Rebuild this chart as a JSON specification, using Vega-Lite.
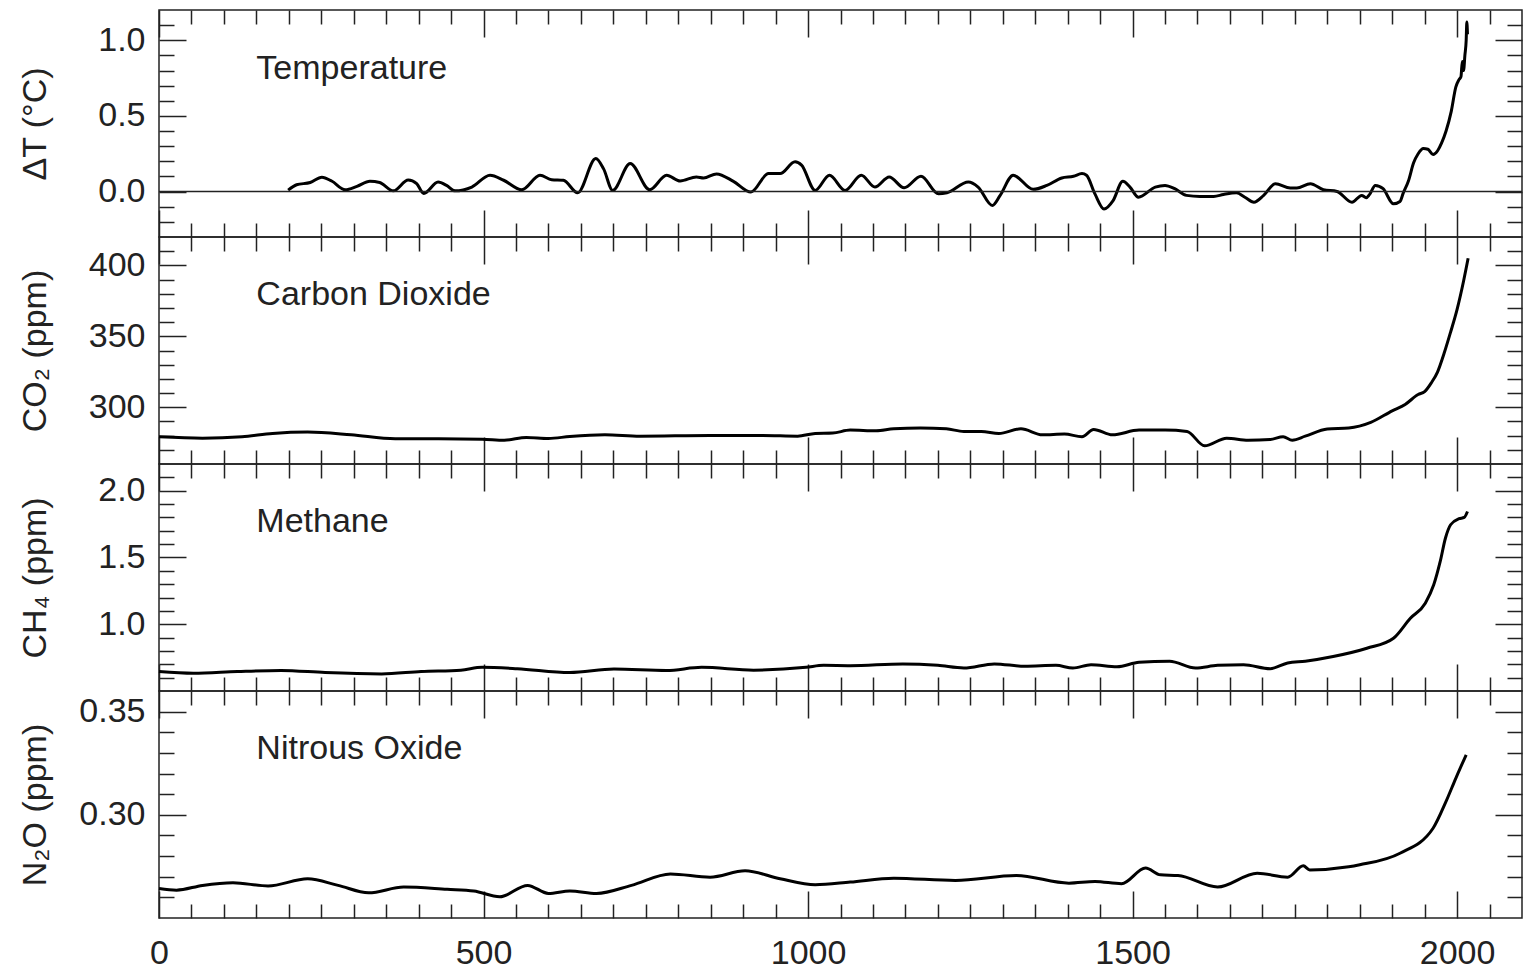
{
  "$schema": "https://vega.github.io/schema/vega-lite/v6.json",
  "background": "white",
  "padding": {"left": 17, "top": 8, "right": 0, "bottom": 0},
  "spacing": 0,
  "bounds": "flush",
  "datasets": {
    "temp": [
      {"year": 199, "v": 0.01}, {"year": 212, "v": 0.045}, {"year": 233, "v": 0.06}, {"year": 251, "v": 0.095}, {"year": 266, "v": 0.07},
      {"year": 287, "v": 0.012}, {"year": 305, "v": 0.035}, {"year": 325, "v": 0.068}, {"year": 340, "v": 0.06}, {"year": 361, "v": 0.005},
      {"year": 384, "v": 0.077}, {"year": 397, "v": 0.052}, {"year": 408, "v": -0.012}, {"year": 430, "v": 0.063}, {"year": 443, "v": 0.041},
      {"year": 456, "v": 0.005}, {"year": 482, "v": 0.03}, {"year": 510, "v": 0.108}, {"year": 531, "v": 0.075}, {"year": 559, "v": 0.012},
      {"year": 587, "v": 0.108}, {"year": 605, "v": 0.079}, {"year": 623, "v": 0.075}, {"year": 645, "v": -0.008}, {"year": 673, "v": 0.219},
      {"year": 685, "v": 0.15}, {"year": 699, "v": 0.008}, {"year": 726, "v": 0.185}, {"year": 756, "v": 0.012}, {"year": 782, "v": 0.108},
      {"year": 803, "v": 0.07}, {"year": 828, "v": 0.097}, {"year": 839, "v": 0.09}, {"year": 859, "v": 0.117}, {"year": 885, "v": 0.068},
      {"year": 912, "v": -0.003}, {"year": 939, "v": 0.119}, {"year": 957, "v": 0.119}, {"year": 980, "v": 0.197}, {"year": 990, "v": 0.175},
      {"year": 1011, "v": 0.008}, {"year": 1033, "v": 0.108}, {"year": 1057, "v": 0.008}, {"year": 1082, "v": 0.108}, {"year": 1103, "v": 0.03},
      {"year": 1125, "v": 0.097}, {"year": 1148, "v": 0.025}, {"year": 1174, "v": 0.101}, {"year": 1201, "v": -0.015}, {"year": 1214, "v": -0.008},
      {"year": 1247, "v": 0.063}, {"year": 1262, "v": 0.03}, {"year": 1284, "v": -0.092}, {"year": 1296, "v": -0.025}, {"year": 1316, "v": 0.108},
      {"year": 1347, "v": 0.015}, {"year": 1368, "v": 0.041}, {"year": 1391, "v": 0.09}, {"year": 1409, "v": 0.101}, {"year": 1422, "v": 0.119},
      {"year": 1429, "v": 0.108}, {"year": 1442, "v": -0.015}, {"year": 1456, "v": -0.115}, {"year": 1470, "v": -0.059}, {"year": 1485, "v": 0.068},
      {"year": 1496, "v": 0.03}, {"year": 1509, "v": -0.037}, {"year": 1535, "v": 0.03}, {"year": 1550, "v": 0.041}, {"year": 1565, "v": 0.019},
      {"year": 1583, "v": -0.025}, {"year": 1604, "v": -0.032}, {"year": 1625, "v": -0.032}, {"year": 1640, "v": -0.019}, {"year": 1660, "v": -0.008},
      {"year": 1673, "v": -0.037}, {"year": 1687, "v": -0.07}, {"year": 1702, "v": -0.025}, {"year": 1720, "v": 0.052}, {"year": 1743, "v": 0.023},
      {"year": 1753, "v": 0.023}, {"year": 1774, "v": 0.052}, {"year": 1794, "v": 0.012}, {"year": 1815, "v": 0.001}, {"year": 1838, "v": -0.07},
      {"year": 1853, "v": -0.025}, {"year": 1860, "v": -0.04}, {"year": 1865, "v": -0.02}, {"year": 1874, "v": 0.041}, {"year": 1886, "v": 0.019},
      {"year": 1902, "v": -0.081}, {"year": 1912, "v": -0.065}, {"year": 1917, "v": -0.01}, {"year": 1925, "v": 0.07}, {"year": 1933, "v": 0.19},
      {"year": 1940, "v": 0.25}, {"year": 1948, "v": 0.285}, {"year": 1955, "v": 0.28}, {"year": 1963, "v": 0.245}, {"year": 1970, "v": 0.27},
      {"year": 1976, "v": 0.32}, {"year": 1983, "v": 0.4}, {"year": 1991, "v": 0.53}, {"year": 1998, "v": 0.69}, {"year": 2003, "v": 0.74},
      {"year": 2006, "v": 0.76}, {"year": 2008, "v": 0.86}, {"year": 2010, "v": 0.8}, {"year": 2012, "v": 0.9}, {"year": 2014, "v": 1.0},
      {"year": 2015, "v": 1.12}, {"year": 2016, "v": 1.04}
    ],
    "co2": [
      {"year": 0, "v": 279.2}, {"year": 67, "v": 278.2}, {"year": 128, "v": 279.2}, {"year": 175, "v": 281.5}, {"year": 229, "v": 282.5},
      {"year": 296, "v": 280.6}, {"year": 364, "v": 277.8}, {"year": 431, "v": 277.8}, {"year": 498, "v": 277.5}, {"year": 532, "v": 276.8},
      {"year": 566, "v": 278.7}, {"year": 600, "v": 278}, {"year": 633, "v": 279.4}, {"year": 687, "v": 280.6}, {"year": 741, "v": 279.6},
      {"year": 849, "v": 280.1}, {"year": 930, "v": 280.1}, {"year": 984, "v": 279.6}, {"year": 1011, "v": 281.5}, {"year": 1038, "v": 281.8},
      {"year": 1065, "v": 283.9}, {"year": 1105, "v": 283.4}, {"year": 1132, "v": 284.8}, {"year": 1173, "v": 285.3}, {"year": 1213, "v": 284.8},
      {"year": 1240, "v": 282.9}, {"year": 1267, "v": 282.9}, {"year": 1294, "v": 281.5}, {"year": 1328, "v": 284.8}, {"year": 1361, "v": 280.6},
      {"year": 1395, "v": 281.1}, {"year": 1422, "v": 279.2}, {"year": 1440, "v": 284.4}, {"year": 1469, "v": 280.6}, {"year": 1510, "v": 283.9},
      {"year": 1550, "v": 283.9}, {"year": 1584, "v": 282.9}, {"year": 1611, "v": 272.8}, {"year": 1645, "v": 278.2}, {"year": 1678, "v": 276.8},
      {"year": 1712, "v": 277.3}, {"year": 1732, "v": 279.2}, {"year": 1746, "v": 276.8}, {"year": 1766, "v": 279.6}, {"year": 1800, "v": 284.6},
      {"year": 1833, "v": 285.3}, {"year": 1867, "v": 289.3}, {"year": 1900, "v": 297.5}, {"year": 1920, "v": 302}, {"year": 1940, "v": 309},
      {"year": 1950, "v": 311}, {"year": 1960, "v": 317}, {"year": 1970, "v": 325}, {"year": 1980, "v": 338}, {"year": 1990, "v": 353},
      {"year": 2000, "v": 369}, {"year": 2010, "v": 389}, {"year": 2017, "v": 405}
    ],
    "ch4": [
      {"year": 0, "v": 0.646}, {"year": 53, "v": 0.633}, {"year": 121, "v": 0.646}, {"year": 188, "v": 0.654}, {"year": 256, "v": 0.638},
      {"year": 343, "v": 0.628}, {"year": 404, "v": 0.646}, {"year": 465, "v": 0.656}, {"year": 498, "v": 0.677}, {"year": 552, "v": 0.667},
      {"year": 633, "v": 0.638}, {"year": 701, "v": 0.664}, {"year": 782, "v": 0.654}, {"year": 836, "v": 0.677}, {"year": 916, "v": 0.656},
      {"year": 997, "v": 0.677}, {"year": 1024, "v": 0.692}, {"year": 1065, "v": 0.69}, {"year": 1146, "v": 0.703}, {"year": 1200, "v": 0.692},
      {"year": 1240, "v": 0.672}, {"year": 1287, "v": 0.703}, {"year": 1334, "v": 0.685}, {"year": 1382, "v": 0.692}, {"year": 1408, "v": 0.672},
      {"year": 1436, "v": 0.697}, {"year": 1476, "v": 0.682}, {"year": 1510, "v": 0.715}, {"year": 1557, "v": 0.723}, {"year": 1597, "v": 0.672},
      {"year": 1631, "v": 0.692}, {"year": 1671, "v": 0.697}, {"year": 1712, "v": 0.667}, {"year": 1739, "v": 0.71}, {"year": 1766, "v": 0.723},
      {"year": 1809, "v": 0.758}, {"year": 1861, "v": 0.82}, {"year": 1902, "v": 0.895}, {"year": 1928, "v": 1.045}, {"year": 1951, "v": 1.157},
      {"year": 1964, "v": 1.295}, {"year": 1974, "v": 1.47}, {"year": 1982, "v": 1.644}, {"year": 1990, "v": 1.745}, {"year": 2003, "v": 1.79},
      {"year": 2011, "v": 1.8}, {"year": 2016, "v": 1.844}
    ],
    "n2o": [
      {"year": 0, "v": 0.2643}, {"year": 27, "v": 0.2635}, {"year": 67, "v": 0.2658}, {"year": 114, "v": 0.2671}, {"year": 168, "v": 0.2655},
      {"year": 229, "v": 0.269}, {"year": 276, "v": 0.2658}, {"year": 323, "v": 0.2622}, {"year": 377, "v": 0.265}, {"year": 444, "v": 0.2639},
      {"year": 485, "v": 0.2631}, {"year": 525, "v": 0.2603}, {"year": 568, "v": 0.2658}, {"year": 600, "v": 0.2619}, {"year": 633, "v": 0.2631},
      {"year": 674, "v": 0.2619}, {"year": 728, "v": 0.2658}, {"year": 788, "v": 0.2713}, {"year": 849, "v": 0.2698}, {"year": 903, "v": 0.2729},
      {"year": 957, "v": 0.269}, {"year": 1011, "v": 0.2661}, {"year": 1065, "v": 0.2674}, {"year": 1132, "v": 0.2693}, {"year": 1227, "v": 0.2682},
      {"year": 1321, "v": 0.2706}, {"year": 1402, "v": 0.2669}, {"year": 1442, "v": 0.2677}, {"year": 1483, "v": 0.2666}, {"year": 1520, "v": 0.2742},
      {"year": 1543, "v": 0.2709}, {"year": 1570, "v": 0.2706}, {"year": 1631, "v": 0.265}, {"year": 1692, "v": 0.2717}, {"year": 1739, "v": 0.2698},
      {"year": 1763, "v": 0.2753}, {"year": 1773, "v": 0.2733}, {"year": 1833, "v": 0.2748}, {"year": 1850, "v": 0.2758}, {"year": 1912, "v": 0.2814},
      {"year": 1963, "v": 0.2935}, {"year": 1983, "v": 0.3065}, {"year": 1998, "v": 0.3177}, {"year": 2014, "v": 0.3291}
    ]
  },
  "config": {
    "view": {"stroke": "#222", "strokeWidth": 1.5},
    "concat": {"spacing": 0},
    "axis": {
      "domain": false, "grid": false, "tickColor": "#222", "tickWidth": 1.5,
      "labelFont": "Liberation Sans", "labelFontSize": 34, "labelColor": "#222",
      "titleFont": "Liberation Sans", "titleFontSize": 34, "titleColor": "#222", "titleFontWeight": "normal",
      "labelOverlap": false, "labelFlush": false
    },
    "line": {"color": "#000", "strokeWidth": 3, "interpolate": "monotone"},
    "text": {"font": "Liberation Sans", "fontSize": 34, "color": "#222"}
  },
  "vconcat": [
    {
      "width": 1363, "height": 227,
      "resolve": {"axis": {"x": "independent", "y": "independent"}},
      "layer": [
        {
          "data": {"name": "temp"},
          "mark": {"type": "line"},
          "encoding": {
            "x": {"field": "year", "type": "quantitative", "scale": {"domain": [0, 2100], "nice": false, "zero": false},
              "axis": {"orient": "bottom", "labels": false, "title": null, "values": [0,50,100,150,200,250,300,350,400,450,500,550,600,650,700,750,800,850,900,950,1000,1050,1100,1150,1200,1250,1300,1350,1400,1450,1500,1550,1600,1650,1700,1750,1800,1850,1900,1950,2000,2050],
                "tickSize": {"condition": {"test": "datum.value % 500 === 0", "value": -27}, "value": -14}}},
            "y": {"field": "v", "type": "quantitative", "scale": {"domain": [-0.3, 1.2], "nice": false, "zero": false},
              "axis": {"orient": "left", "values": [-0.2,-0.1,0,0.1,0.2,0.3,0.4,0.5,0.6,0.7,0.8,0.9,1.0,1.1],
                "labelExpr": "abs(datum.value*2 - round(datum.value*2)) < 1e-6 ? format(datum.value, '.1f') : ''",
                "labelFontSize": {"condition": {"test": "abs(datum.value*2 - round(datum.value*2)) < 1e-6", "value": 34}, "value": 0},
                "labelPadding": 41, "title": "ΔT (°C)", "titleX": -124, "titleY": 113.5, "titleBaseline": "middle", "titleAngle": -90,
                "tickSize": {"condition": {"test": "abs(datum.value*2 - round(datum.value*2)) < 1e-6", "value": -27}, "value": -15}}}
          }
        },
        {
          "data": {"values": [{"z": 0}]},
          "mark": {"type": "rule", "color": "#222", "strokeWidth": 1.5},
          "encoding": {"y": {"field": "z", "type": "quantitative", "axis": null}}
        },
        {
          "data": {"values": [{"x": 150, "y": 0.813, "t": "Temperature"}]},
          "mark": {"type": "text", "align": "left", "baseline": "middle"},
          "encoding": {
            "x": {"field": "x", "type": "quantitative", "scale": {"domain": [0, 2100], "nice": false, "zero": false},
              "axis": {"orient": "top", "labels": false, "title": null, "values": [0,50,100,150,200,250,300,350,400,450,500,550,600,650,700,750,800,850,900,950,1000,1050,1100,1150,1200,1250,1300,1350,1400,1450,1500,1550,1600,1650,1700,1750,1800,1850,1900,1950,2000,2050],
                "tickSize": {"condition": {"test": "datum.value % 500 === 0", "value": -27}, "value": -14}}},
            "y": {"field": "y", "type": "quantitative",
              "axis": {"orient": "right", "labels": false, "title": null, "values": [-0.2,-0.1,0,0.1,0.2,0.3,0.4,0.5,0.6,0.7,0.8,0.9,1.0,1.1],
                "tickSize": {"condition": {"test": "abs(datum.value*2 - round(datum.value*2)) < 1e-6", "value": -27}, "value": -15}}},
            "text": {"field": "t"}
          }
        }
      ]
    },
    {
      "width": 1363, "height": 227,
      "resolve": {"axis": {"x": "independent", "y": "independent"}},
      "layer": [
        {
          "data": {"name": "co2"},
          "mark": {"type": "line"},
          "encoding": {
            "x": {"field": "year", "type": "quantitative", "scale": {"domain": [0, 2100], "nice": false, "zero": false},
              "axis": {"orient": "bottom", "labels": false, "title": null, "values": [0,50,100,150,200,250,300,350,400,450,500,550,600,650,700,750,800,850,900,950,1000,1050,1100,1150,1200,1250,1300,1350,1400,1450,1500,1550,1600,1650,1700,1750,1800,1850,1900,1950,2000,2050],
                "tickSize": {"condition": {"test": "datum.value % 500 === 0", "value": -27}, "value": -14}}},
            "y": {"field": "v", "type": "quantitative", "scale": {"domain": [260, 420], "nice": false, "zero": false},
              "axis": {"orient": "left", "values": [270,280,290,300,310,320,330,340,350,360,370,380,390,400,410],
                "labelExpr": "datum.value % 50 === 0 ? format(datum.value, 'd') : ''",
                "labelFontSize": {"condition": {"test": "datum.value % 50 === 0", "value": 34}, "value": 0},
                "labelPadding": 41, "title": "CO₂ (ppm)", "titleX": -124, "titleY": 113.5, "titleBaseline": "middle", "titleAngle": -90,
                "tickSize": {"condition": {"test": "datum.value % 50 === 0", "value": -27}, "value": -15}}}
          }
        },
        {
          "data": {"values": [{"x": 150, "y": 378.8, "t": "Carbon Dioxide"}]},
          "mark": {"type": "text", "align": "left", "baseline": "middle"},
          "encoding": {
            "x": {"field": "x", "type": "quantitative", "scale": {"domain": [0, 2100], "nice": false, "zero": false},
              "axis": {"orient": "top", "labels": false, "title": null, "values": [0,50,100,150,200,250,300,350,400,450,500,550,600,650,700,750,800,850,900,950,1000,1050,1100,1150,1200,1250,1300,1350,1400,1450,1500,1550,1600,1650,1700,1750,1800,1850,1900,1950,2000,2050],
                "tickSize": {"condition": {"test": "datum.value % 500 === 0", "value": -27}, "value": -14}}},
            "y": {"field": "y", "type": "quantitative",
              "axis": {"orient": "right", "labels": false, "title": null, "values": [270,280,290,300,310,320,330,340,350,360,370,380,390,400,410],
                "tickSize": {"condition": {"test": "datum.value % 50 === 0", "value": -27}, "value": -15}}},
            "text": {"field": "t"}
          }
        }
      ]
    },
    {
      "width": 1363, "height": 227,
      "resolve": {"axis": {"x": "independent", "y": "independent"}},
      "layer": [
        {
          "data": {"name": "ch4"},
          "mark": {"type": "line"},
          "encoding": {
            "x": {"field": "year", "type": "quantitative", "scale": {"domain": [0, 2100], "nice": false, "zero": false},
              "axis": {"orient": "bottom", "labels": false, "title": null, "values": [0,50,100,150,200,250,300,350,400,450,500,550,600,650,700,750,800,850,900,950,1000,1050,1100,1150,1200,1250,1300,1350,1400,1450,1500,1550,1600,1650,1700,1750,1800,1850,1900,1950,2000,2050],
                "tickSize": {"condition": {"test": "datum.value % 500 === 0", "value": -27}, "value": -14}}},
            "y": {"field": "v", "type": "quantitative", "scale": {"domain": [0.5, 2.2], "nice": false, "zero": false},
              "axis": {"orient": "left", "values": [0.6,0.7,0.8,0.9,1.0,1.1,1.2,1.3,1.4,1.5,1.6,1.7,1.8,1.9,2.0,2.1],
                "labelExpr": "abs(datum.value*2 - round(datum.value*2)) < 1e-6 ? format(datum.value, '.1f') : ''",
                "labelFontSize": {"condition": {"test": "abs(datum.value*2 - round(datum.value*2)) < 1e-6", "value": 34}, "value": 0},
                "labelPadding": 41, "title": "CH₄ (ppm)", "titleX": -124, "titleY": 113.5, "titleBaseline": "middle", "titleAngle": -90,
                "tickSize": {"condition": {"test": "abs(datum.value*2 - round(datum.value*2)) < 1e-6", "value": -27}, "value": -15}}}
          }
        },
        {
          "data": {"values": [{"x": 150, "y": 1.762, "t": "Methane"}]},
          "mark": {"type": "text", "align": "left", "baseline": "middle"},
          "encoding": {
            "x": {"field": "x", "type": "quantitative", "scale": {"domain": [0, 2100], "nice": false, "zero": false},
              "axis": {"orient": "top", "labels": false, "title": null, "values": [0,50,100,150,200,250,300,350,400,450,500,550,600,650,700,750,800,850,900,950,1000,1050,1100,1150,1200,1250,1300,1350,1400,1450,1500,1550,1600,1650,1700,1750,1800,1850,1900,1950,2000,2050],
                "tickSize": {"condition": {"test": "datum.value % 500 === 0", "value": -27}, "value": -14}}},
            "y": {"field": "y", "type": "quantitative",
              "axis": {"orient": "right", "labels": false, "title": null, "values": [0.6,0.7,0.8,0.9,1.0,1.1,1.2,1.3,1.4,1.5,1.6,1.7,1.8,1.9,2.0,2.1],
                "tickSize": {"condition": {"test": "abs(datum.value*2 - round(datum.value*2)) < 1e-6", "value": -27}, "value": -15}}},
            "text": {"field": "t"}
          }
        }
      ]
    },
    {
      "width": 1363, "height": 227,
      "resolve": {"axis": {"x": "independent", "y": "independent"}},
      "layer": [
        {
          "data": {"name": "n2o"},
          "mark": {"type": "line"},
          "encoding": {
            "x": {"field": "year", "type": "quantitative", "scale": {"domain": [0, 2100], "nice": false, "zero": false},
              "axis": {"orient": "bottom", "title": null, "values": [0,50,100,150,200,250,300,350,400,450,500,550,600,650,700,750,800,850,900,950,1000,1050,1100,1150,1200,1250,1300,1350,1400,1450,1500,1550,1600,1650,1700,1750,1800,1850,1900,1950,2000,2050],
                "labelExpr": "datum.value % 500 === 0 ? format(datum.value, 'd') : ''",
                "labelFontSize": {"condition": {"test": "datum.value % 500 === 0", "value": 34}, "value": 0},
                "labelPadding": 45,
                "tickSize": {"condition": {"test": "datum.value % 500 === 0", "value": -27}, "value": -14}}},
            "y": {"field": "v", "type": "quantitative", "scale": {"domain": [0.25, 0.36], "nice": false, "zero": false},
              "axis": {"orient": "left", "values": [0.26,0.27,0.28,0.29,0.30,0.31,0.32,0.33,0.34,0.35],
                "labelExpr": "abs(datum.value*20 - round(datum.value*20)) < 1e-6 ? format(datum.value, '.2f') : ''",
                "labelFontSize": {"condition": {"test": "abs(datum.value*20 - round(datum.value*20)) < 1e-6", "value": 34}, "value": 0},
                "labelPadding": 41, "title": "N₂O (ppm)", "titleX": -124, "titleY": 113.5, "titleBaseline": "middle", "titleAngle": -90,
                "tickSize": {"condition": {"test": "abs(datum.value*20 - round(datum.value*20)) < 1e-6", "value": -27}, "value": -15}}}
          }
        },
        {
          "data": {"values": [{"x": 150, "y": 0.3317, "t": "Nitrous Oxide"}]},
          "mark": {"type": "text", "align": "left", "baseline": "middle"},
          "encoding": {
            "x": {"field": "x", "type": "quantitative", "scale": {"domain": [0, 2100], "nice": false, "zero": false},
              "axis": {"orient": "top", "labels": false, "title": null, "values": [0,50,100,150,200,250,300,350,400,450,500,550,600,650,700,750,800,850,900,950,1000,1050,1100,1150,1200,1250,1300,1350,1400,1450,1500,1550,1600,1650,1700,1750,1800,1850,1900,1950,2000,2050],
                "tickSize": {"condition": {"test": "datum.value % 500 === 0", "value": -27}, "value": -14}}},
            "y": {"field": "y", "type": "quantitative",
              "axis": {"orient": "right", "labels": false, "title": null, "values": [0.26,0.27,0.28,0.29,0.30,0.31,0.32,0.33,0.34,0.35],
                "tickSize": {"condition": {"test": "abs(datum.value*20 - round(datum.value*20)) < 1e-6", "value": -27}, "value": -15}}},
            "text": {"field": "t"}
          }
        }
      ]
    }
  ]
}
